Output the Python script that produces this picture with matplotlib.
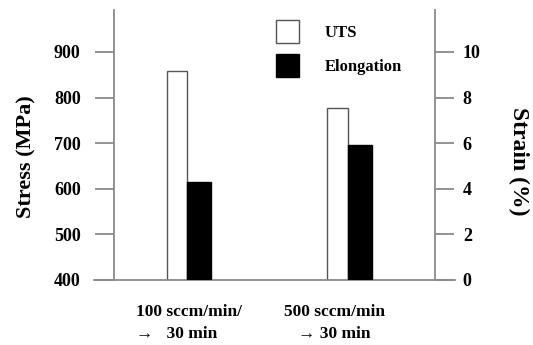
import matplotlib
matplotlib.use("Agg")
import matplotlib.pyplot as plt
from matplotlib.patches import Patch

categories = ["100 sccm/min/\n\u2192   30 min", "500 sccm/min\n\u2192 30 min"]
uts = [858, 778]          # MPa
elongation = [4.3, 5.9]   # %
stress_ticks = [400, 500, 600, 700, 800, 900]
strain_ticks = [0, 2, 4, 6, 8, 10]

plt.rcParams['font.family'] = ['Liberation Serif', 'DejaVu Serif']
plt.rcParams['font.weight'] = 'bold'

W, H = 533, 345
fig = plt.figure(figsize=(W / 100, H / 100), dpi=100)
L, R, B, T = 114, 435, 280, 10
ax = fig.add_axes([L / W, 1 - B / H, (R - L) / W, (B - T) / H])
ax2 = ax.twinx()

gray = '#8a8a8a'
ylo, yhi = 400, 992
ax.set_ylim(ylo, yhi)
ax2.set_ylim((ylo - 400) / 50, (yhi - 400) / 50)

x = [0, 1]
w = 0.125
ax.set_xlim(-0.455, 1.545)
ax.bar([p - w for p in x], [u - ylo for u in uts], bottom=ylo, width=w,
       align='edge', color='white', edgecolor='#555555', linewidth=1.0, zorder=3)
ax2.bar(x, elongation, width=w * 1.2, align='edge',
        color='black', edgecolor='black', linewidth=1.0, zorder=3)

for a in (ax, ax2):
    for s in ('top', 'bottom'):
        a.spines[s].set_visible(False)
    a.tick_params(axis='x', length=0)
ax.spines['right'].set_visible(False)
ax2.spines['left'].set_visible(False)
ax.spines['left'].set_color(gray)
ax.spines['left'].set_linewidth(1.3)
ax2.spines['right'].set_color(gray)
ax2.spines['right'].set_linewidth(1.3)

ax.set_yticks(stress_ticks)
ax.set_yticklabels([str(t) for t in stress_ticks], fontsize=13, fontweight='bold')
ax.tick_params(axis='y', length=14, width=1.3, color=gray, pad=10)
ax2.set_yticks(strain_ticks)
ax2.set_yticklabels([str(t) for t in strain_ticks], fontsize=13, fontweight='bold')
ax2.tick_params(axis='y', length=14, width=1.3, color=gray, pad=6)

# extended baseline
ax.plot([-20 / (R - L), 1 + 20 / (R - L)], [0, 0], transform=ax.transAxes,
        color=gray, linewidth=1.3, clip_on=False, zorder=4)

ax.set_xticks([])
# category labels
ax.text(0 - 0.32, -0.09, categories[0], transform=ax.get_xaxis_transform(),
        ha='left', va='top', fontsize=12.5, fontweight='bold', linespacing=1.45)
ax.text(1 - 0.08, -0.09, categories[1], transform=ax.get_xaxis_transform(),
        ha='center', va='top', fontsize=12.5, fontweight='bold', linespacing=1.45,
        multialignment='center')

ax.set_ylabel('Stress (MPa)', fontsize=16, fontweight='bold')
ax2.set_ylabel('Strain (%)', fontsize=17, fontweight='bold', rotation=270)
ax.yaxis.set_label_coords((36 - L) / (R - L), (B - 157) / (B - T))
ax2.yaxis.set_label_coords((529 - L) / (R - L), (B - 161) / (B - T))

handles = [Patch(facecolor='white', edgecolor='#555555', linewidth=1.0),
           Patch(facecolor='black', edgecolor='black', linewidth=1.0)]
fig.legend(handles, ['UTS', 'Elongation'], loc='upper left',
           bbox_to_anchor=(276 / W, 1 - 20 / H), frameon=False, borderpad=0,
           borderaxespad=0, prop={'family': 'Liberation Serif', 'weight': 'bold', 'size': 12},
           handlelength=1.4, handleheight=1.74, handletextpad=1.5, labelspacing=0.66)

fig.savefig('out.png', dpi=100)
